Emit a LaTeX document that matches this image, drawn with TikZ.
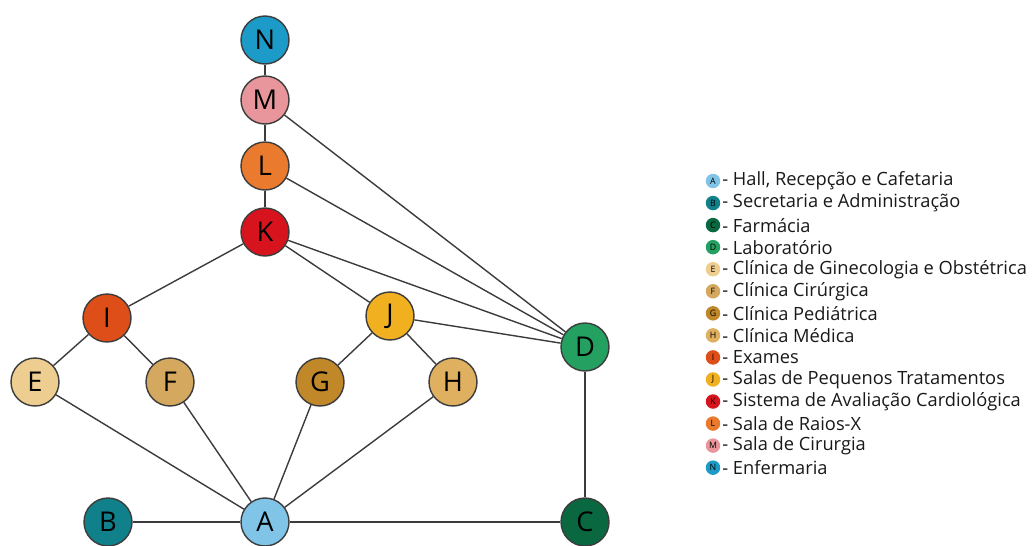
\documentclass[tikz,border=0pt]{standalone}
\usepackage{fontspec}
\setmainfont{Open Sans}

\definecolor{cN}{RGB}{28,155,200}
\definecolor{cM}{RGB}{232,150,155}
\definecolor{cL}{RGB}{234,122,46}
\definecolor{cK}{RGB}{215,20,30}
\definecolor{cI}{RGB}{222,78,24}
\definecolor{cJ}{RGB}{240,176,32}
\definecolor{cD}{RGB}{36,160,96}
\definecolor{cE}{RGB}{238,206,144}
\definecolor{cF}{RGB}{212,168,94}
\definecolor{cG}{RGB}{192,136,40}
\definecolor{cH}{RGB}{222,176,96}
\definecolor{cB}{RGB}{16,128,138}
\definecolor{cA}{RGB}{128,196,232}
\definecolor{cC}{RGB}{10,104,64}
\definecolor{edgegray}{RGB}{60,60,60}

\begin{document}
\begin{tikzpicture}[x=0.02cm, y=-0.02cm,
    room/.style={circle, draw=edgegray, line width=0.8pt, minimum size=0.96cm,
        inner sep=0pt, font=\fontsize{15.5}{16}\selectfont},
    dot/.style={circle, draw=none, minimum size=0.29cm, inner sep=0pt,
        font=\fontsize{5}{5}\selectfont},
    legtext/.style={anchor=west, inner sep=0pt, text=black!90,
        font=\fontsize{10.4}{11}\selectfont},
    link/.style={draw=edgegray, line width=0.8pt}]
    \useasboundingbox (0,0) rectangle (1035,545);

    % rooms
    \node[room, fill=cN] (N) at (265,40) {N};
    \node[room, fill=cM] (M) at (265,100) {M};
    \node[room, fill=cL] (L) at (265,166) {L};
    \node[room, fill=cK] (K) at (265,232) {K};
    \node[room, fill=cI] (I) at (107,318) {I};
    \node[room, fill=cJ] (J) at (390,316) {J};
    \node[room, fill=cD] (D) at (585,347) {D};
    \node[room, fill=cE] (E) at (35,382) {E};
    \node[room, fill=cF] (F) at (170,382) {F};
    \node[room, fill=cG] (G) at (320,382) {G};
    \node[room, fill=cH] (H) at (453,382) {H};
    \node[room, fill=cB] (B) at (108,522) {B};
    \node[room, fill=cA] (A) at (265,522) {A};
    \node[room, fill=cC] (C) at (585,522) {C};

    % corridors
    \draw[link] (N) -- (M) -- (L) -- (K);
    \draw[link] (K) -- (I);
    \draw[link] (K) -- (J);
    \draw[link] (I) -- (E);
    \draw[link] (I) -- (F);
    \draw[link] (J) -- (G);
    \draw[link] (J) -- (H);
    \draw[link] (J) -- (D);
    \draw[link] (K) -- (D);
    \draw[link] (L) -- (D);
    \draw[link] (M) -- (D);
    \draw[link] (D) -- (C);
    \draw[link] (B) -- (A) -- (C);
    \draw[link] (E) -- (A);
    \draw[link] (F) -- (A);
    \draw[link] (G) -- (A);
    \draw[link] (H) -- (A);

    % legend
    \foreach \k/\txt [count=\i from 0] in {
        A/Hall{,} Recepção e Cafetaria,
        B/Secretaria e Administração,
        C/Farmácia,
        D/Laboratório,
        E/Clínica de Ginecologia e Obstétrica,
        F/Clínica Cirúrgica,
        G/Clínica Pediátrica,
        H/Clínica Médica,
        I/Exames,
        J/Salas de Pequenos Tratamentos,
        K/Sistema de Avaliação Cardiológica,
        L/Sala de Raios-X,
        M/Sala de Cirurgia,
        N/Enfermaria} {
        \node[dot, fill=c\k] (key\k) at (713,181+22.05*\i) {\k};
        \node[legtext] (lab\k) at (722,181+22.05*\i) {- \txt};
    }
\end{tikzpicture}
\end{document}
